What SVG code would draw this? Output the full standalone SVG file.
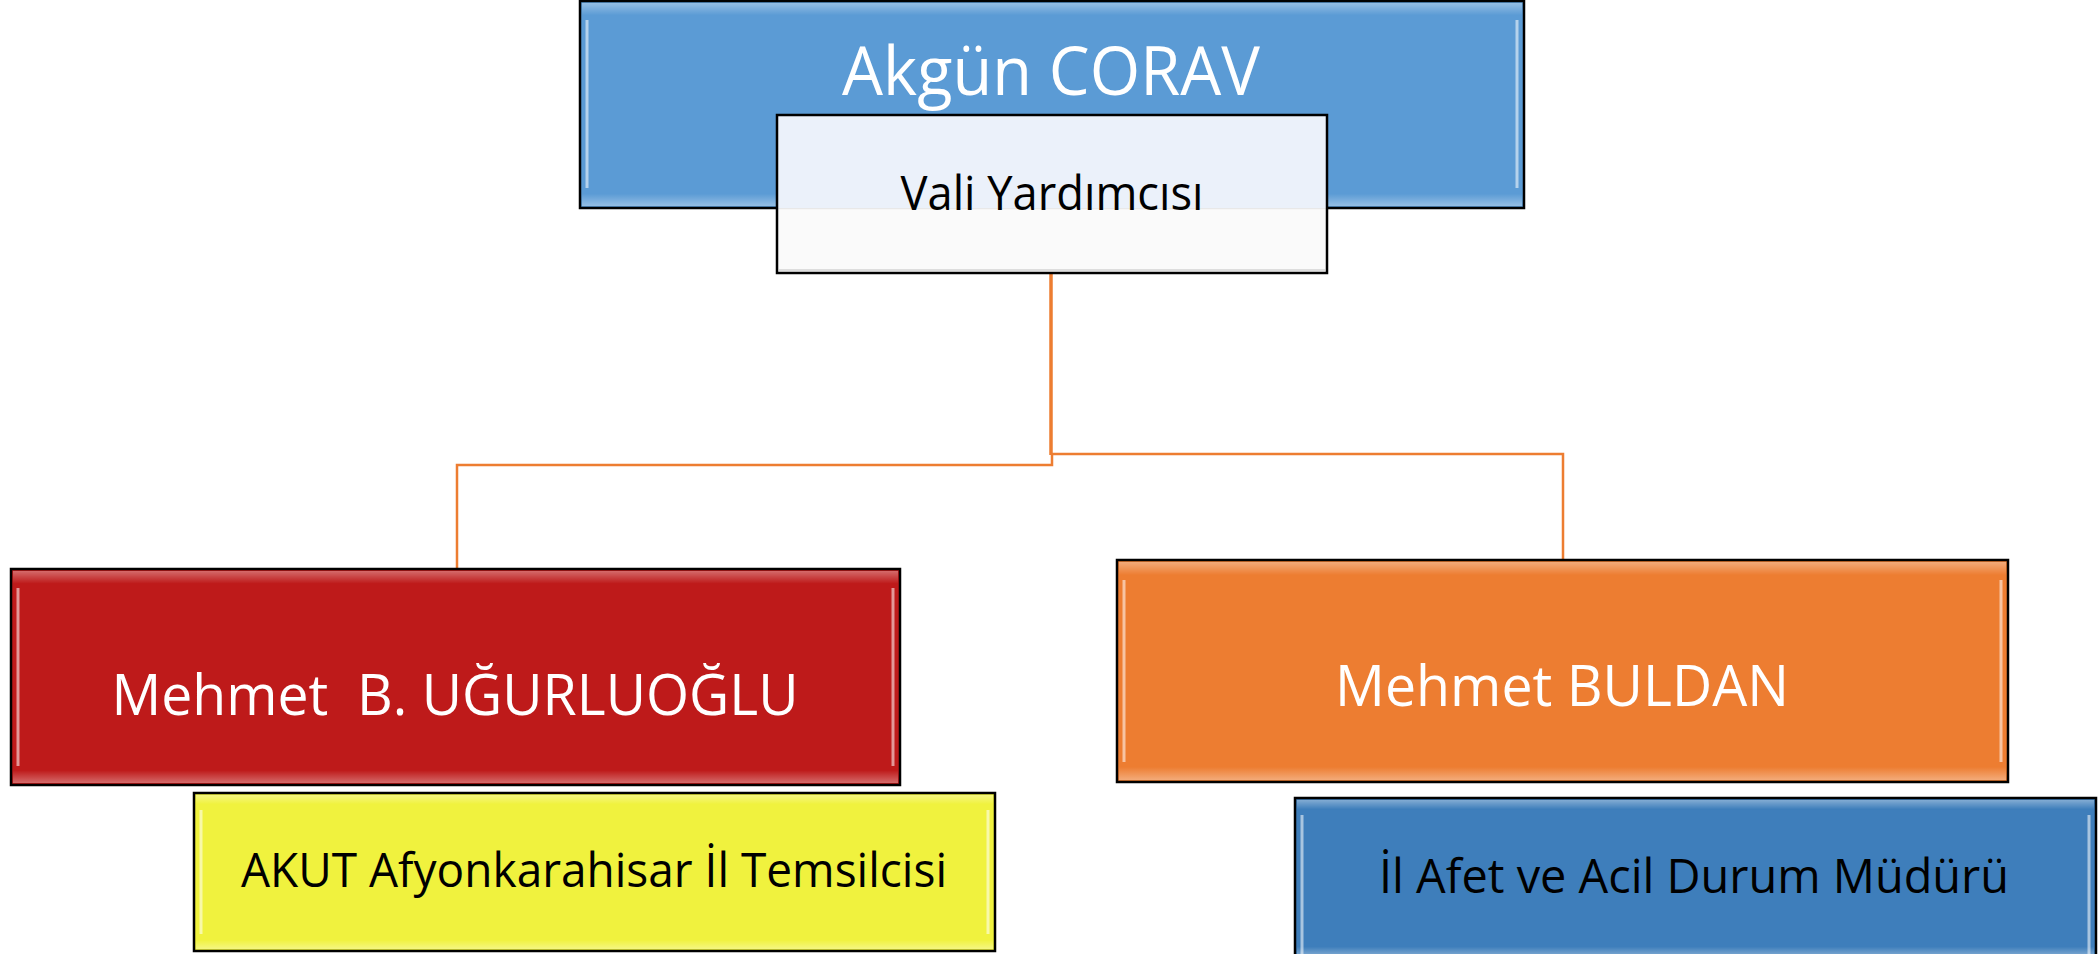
<svg xmlns="http://www.w3.org/2000/svg" width="2100" height="954" viewBox="0 0 2100 954">
<style>
.box{stroke:#000;stroke-width:2.5}
.hl{fill:none;stroke:#fff;stroke-width:3;stroke-opacity:0.55}
.t{font-family:"Open Sans","Noto Sans",sans-serif;text-anchor:middle}
.w{fill:#fff}
.k{fill:#000}
.con{fill:none;stroke:#ED7D31}
</style>
<defs>
<linearGradient id="gv" x1="0" y1="0" x2="0" y2="1">
<stop offset="0" stop-color="#fff" stop-opacity="0.35"/>
<stop offset="0.06" stop-color="#fff" stop-opacity="0"/>
<stop offset="0.94" stop-color="#fff" stop-opacity="0"/>
<stop offset="1" stop-color="#fff" stop-opacity="0.35"/>
</linearGradient>
</defs>
<g id="connectors">
<path class="con" stroke-width="3.5" d="M1051 273 V455"/>
<path class="con" stroke-width="2.5" d="M1052 455 V465 H457 V569"/>
<path class="con" stroke-width="2.5" d="M1051 454 H1563 V560"/>
</g>
<g id="n-corav">
<rect class="box" x="580" y="1" width="944" height="207" fill="#5B9BD5"/>
<rect x="582" y="3" width="940" height="203" fill="url(#gv)"/>
<path class="hl" d="M587 20 V188 M1517 20 V188"/>
<text class="t w" x="1051" y="95" font-size="68" textLength="418" lengthAdjust="spacingAndGlyphs">Akgün CORAV</text>
</g>
<g id="n-vali">
<rect x="777" y="115" width="550" height="93" fill="#EBF1FA"/>
<rect x="777" y="208" width="550" height="65" fill="#FAFAFA" fill-opacity="0.93"/>
<rect x="777" y="115" width="550" height="158" fill="none" stroke="#000" stroke-width="2.5"/>
<path d="M779 270 H1325" stroke="#ddd" stroke-width="2"/>
<text class="t k" x="1052" y="210" font-size="47" textLength="303" lengthAdjust="spacingAndGlyphs">Vali Yardımcısı</text>
</g>
<g id="n-ugurluoglu">
<rect class="box" x="11" y="569" width="889" height="216" fill="#BE1A1A"/>
<rect x="13" y="571" width="885" height="212" fill="url(#gv)"/>
<path class="hl" d="M18 588 V766 M893 588 V766"/>
<text class="t w" x="455" y="715" font-size="57" xml:space="preserve" textLength="687" lengthAdjust="spacingAndGlyphs">Mehmet  B. UĞURLUOĞLU</text>
</g>
<g id="n-akut">
<rect class="box" x="194" y="793" width="801" height="158" fill="#F0F23E"/>
<rect x="196" y="795" width="797" height="154" fill="url(#gv)"/>
<path class="hl" d="M201 810 V934 M988 810 V934"/>
<text class="t k" x="594" y="887" font-size="48" textLength="706" lengthAdjust="spacingAndGlyphs">AKUT Afyonkarahisar İl Temsilcisi</text>
</g>
<g id="n-buldan">
<rect class="box" x="1117" y="560" width="891" height="222" fill="#ED7D31"/>
<rect x="1119" y="562" width="887" height="218" fill="url(#gv)"/>
<path class="hl" d="M1124 580 V762 M2001 580 V762"/>
<text class="t w" x="1562" y="706" font-size="57" textLength="454" lengthAdjust="spacingAndGlyphs">Mehmet BULDAN</text>
</g>
<g id="n-afet">
<rect class="box" x="1295" y="798" width="801" height="160" fill="#3E7EBB"/>
<rect x="1297" y="800" width="797" height="156" fill="url(#gv)"/>
<path class="hl" d="M1302 815 V954 M2089 815 V954"/>
<text class="t k" x="1694" y="893" font-size="48" textLength="630" lengthAdjust="spacingAndGlyphs">İl Afet ve Acil Durum Müdürü</text>
</g>
</svg>
